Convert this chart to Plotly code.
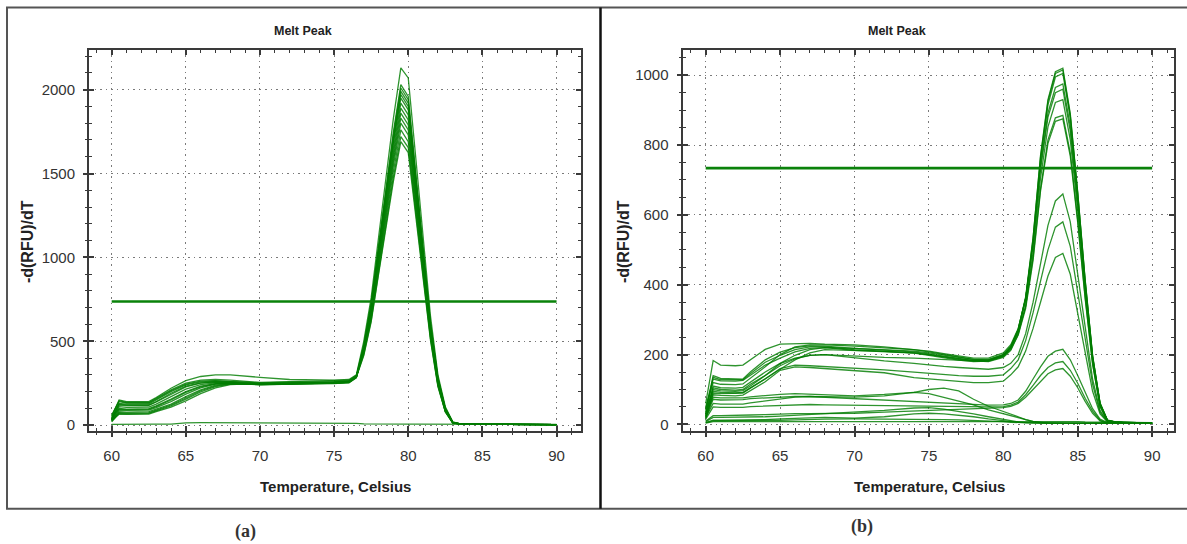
import plotly.graph_objects as go

# ---------------- Panel (a) data ----------------
temp_a = [60, 60.5, 61, 62, 62.5, 63, 64, 65, 66, 67, 68, 70, 72, 74, 75, 76,
          76.5, 77, 77.5, 78, 78.5, 79, 79.5, 80, 80.5, 81, 81.5, 82, 82.5, 83, 83.5, 84, 86, 88, 90]

a_curves = [
    [50, 150, 140, 138, 140, 165, 220, 265, 290, 300, 300, 285, 272, 270, 268, 272,
     300, 500, 760, 1120, 1470, 1830, 2130, 2070, 1600, 1100, 650, 300, 110, 20, 8, 6, 5, 4, 4],
    [60, 145, 135, 133, 135, 160, 210, 250, 268, 272, 268, 255, 258, 262, 262, 268,
     295, 480, 730, 1070, 1400, 1750, 2030, 1960, 1510, 1040, 610, 285, 100, 18, 7, 6, 5, 4, 3],
    [40, 130, 125, 124, 126, 150, 200, 240, 258, 262, 260, 250, 252, 255, 258, 262,
     290, 470, 720, 1060, 1390, 1730, 2010, 1940, 1490, 1030, 600, 280, 100, 17, 7, 6, 5, 4, 3],
    [35, 125, 120, 118, 120, 140, 190, 232, 252, 258, 256, 245, 248, 250, 252, 258,
     288, 465, 715, 1050, 1375, 1710, 1990, 1920, 1475, 1015, 595, 275, 98, 17, 7, 6, 5, 4, 3],
    [30, 110, 106, 105, 108, 125, 170, 215, 242, 252, 252, 242, 246, 248, 250, 255,
     285, 460, 705, 1040, 1360, 1695, 1970, 1900, 1460, 1005, 590, 272, 96, 16, 7, 5, 5, 4, 3],
    [45, 100, 96, 95, 98, 115, 155, 200, 232, 248, 250, 240, 244, 246, 248, 252,
     282, 455, 700, 1030, 1345, 1680, 1950, 1880, 1445, 995, 585, 270, 95, 16, 7, 5, 5, 4, 3],
    [25, 90, 88, 87, 90, 105, 140, 185, 222, 244, 250, 242, 245, 247, 248, 254,
     285, 450, 690, 1015, 1325, 1650, 1920, 1850, 1420, 980, 575, 265, 92, 15, 7, 5, 5, 4, 3],
    [30, 80, 78, 77, 80, 95, 125, 170, 210, 238, 248, 244, 246, 248, 250, 256,
     288, 445, 680, 1000, 1305, 1625, 1890, 1820, 1400, 965, 565, 260, 90, 15, 7, 5, 4, 4, 3],
    [20, 70, 68, 67, 70, 85, 115, 155, 198, 230, 245, 246, 248, 250, 252, 258,
     290, 440, 670, 985, 1285, 1600, 1860, 1790, 1375, 950, 555, 255, 88, 15, 6, 5, 4, 4, 3],
    [28, 65, 64, 63, 66, 80, 108, 145, 188, 222, 242, 248, 250, 252, 254, 260,
     292, 440, 660, 970, 1265, 1575, 1830, 1760, 1355, 935, 545, 250, 86, 14, 6, 5, 4, 3, 3],
    [40, 120, 116, 115, 118, 138, 185, 228, 250, 256, 255, 246, 250, 253, 255, 260,
     290, 435, 650, 955, 1245, 1550, 1800, 1730, 1330, 920, 540, 245, 85, 14, 6, 5, 4, 3, 3],
    [55, 140, 132, 130, 132, 155, 205, 245, 262, 265, 262, 252, 256, 258, 260, 265,
     295, 430, 640, 935, 1215, 1515, 1760, 1690, 1300, 900, 528, 240, 82, 13, 6, 5, 4, 3, 3],
    [35, 95, 92, 91, 94, 110, 150, 195, 228, 246, 250, 243, 247, 249, 250, 256,
     288, 420, 625, 915, 1190, 1480, 1720, 1655, 1275, 880, 515, 235, 80, 13, 6, 5, 4, 3, 3],
    [22, 75, 73, 72, 75, 90, 120, 162, 205, 234, 246, 245, 247, 249, 251, 257,
     287, 415, 615, 900, 1170, 1455, 1690, 1625, 1250, 865, 505, 230, 78, 13, 6, 5, 4, 3, 3],
    [4, 5, 5, 5, 5, 6, 6, 14, 15, 15, 15, 15, 14, 14, 14, 13,
     11, 8, 7, 6, 6, 6, 6, 6, 6, 6, 6, 6, 6, 6, 6, 6, 6, 6, 3],
]
threshold_a = 737

# ---------------- Panel (b) data ----------------
temp_b = [60, 60.5, 61, 62, 62.5, 63, 64, 65, 66, 67, 68, 70, 72, 74, 75, 76, 77, 78, 79, 80,
          80.5, 81, 81.5, 82, 82.5, 83, 83.5, 84, 84.5, 85, 85.5, 86, 86.5, 87, 87.5, 88, 90]

b_curves = [
    # high peaks
    [60, 183, 170, 168, 170, 185, 215, 230, 232, 232, 230, 228, 222, 215, 210, 203, 196, 190, 190, 205,
     228, 275, 360, 515, 730, 880, 950, 960, 840, 630, 395, 188, 58, 12, 7, 6, 4],
    [40, 140, 132, 130, 130, 150, 185, 207, 220, 225, 224, 218, 212, 208, 202, 195, 188, 183, 183, 198,
     222, 272, 365, 535, 770, 930, 1010, 1020, 890, 665, 415, 198, 62, 12, 7, 6, 4],
    [30, 135, 128, 127, 128, 145, 178, 198, 214, 222, 222, 214, 210, 205, 200, 193, 186, 182, 182, 196,
     220, 270, 362, 532, 765, 925, 1005, 1015, 885, 662, 412, 196, 60, 11, 7, 6, 4],
    [50, 130, 125, 124, 126, 140, 170, 190, 208, 218, 220, 212, 208, 204, 198, 190, 184, 180, 181, 194,
     218, 268, 358, 525, 755, 915, 995, 1005, 878, 658, 408, 194, 60, 11, 7, 6, 4],
    [25, 110, 105, 104, 106, 120, 150, 175, 198, 214, 220, 218, 214, 210, 205, 198, 192, 186, 186, 200,
     224, 272, 360, 518, 740, 892, 965, 975, 855, 640, 400, 190, 58, 11, 7, 6, 4],
    [35, 100, 96, 95, 97, 110, 140, 168, 188, 198, 200, 195, 192, 190, 188, 185, 182, 180, 180, 192,
     212, 258, 340, 492, 705, 852, 922, 930, 815, 612, 382, 182, 55, 10, 7, 6, 4],
    [45, 120, 115, 114, 116, 132, 165, 200, 222, 228, 228, 224, 220, 214, 208, 200, 192, 186, 185, 200,
     220, 262, 338, 478, 675, 815, 878, 885, 778, 585, 365, 175, 52, 10, 6, 5, 4],
    [20, 90, 88, 88, 90, 104, 130, 158, 185, 205, 214, 212, 209, 205, 200, 194, 188, 183, 183, 196,
     214, 256, 332, 470, 668, 805, 868, 875, 768, 578, 360, 172, 52, 10, 6, 5, 4],
    # medium peaks
    [30, 105, 100, 98, 100, 115, 140, 174, 190, 198, 200, 190, 182, 175, 170, 166, 163, 160, 158, 163,
     175, 200, 260, 350, 460, 570, 640, 660, 580, 430, 270, 130, 40, 9, 6, 5, 4],
    [25, 95, 92, 90, 92, 105, 130, 160, 170, 168, 166, 162, 156, 150, 146, 142, 140, 138, 138, 142,
     160, 185, 240, 320, 410, 500, 565, 580, 510, 380, 240, 115, 35, 8, 6, 5, 4],
    [20, 85, 83, 82, 84, 96, 122, 155, 165, 163, 160, 154, 148, 134, 130, 126, 122, 120, 120, 124,
     142, 165, 210, 275, 350, 425, 478, 490, 430, 320, 200, 95, 30, 7, 5, 5, 4],
    # small peaks
    [18, 72, 70, 70, 71, 74, 76, 79, 80, 80, 78, 74, 70, 66, 62, 60, 58, 56, 55, 56,
     60, 70, 95, 130, 165, 195, 210, 215, 185, 140, 90, 45, 15, 5, 4, 4, 3],
    [15, 50, 49, 48, 49, 51, 53, 55, 56, 57, 56, 55, 54, 53, 52, 51, 50, 50, 50, 51,
     55, 64, 85, 112, 140, 163, 176, 180, 155, 118, 75, 38, 12, 4, 4, 3, 3],
    [10, 25, 25, 25, 26, 27, 28, 30, 31, 31, 31, 32, 35, 38, 40, 42, 44, 46, 47, 48,
     52, 60, 78, 100, 125, 145, 156, 160, 138, 105, 66, 32, 10, 4, 3, 3, 3],
    # no peak
    [20, 60, 58, 57, 58, 62, 68, 74, 78, 80, 80, 78, 82, 92, 100, 104, 96, 72, 52, 38,
     30, 22, 14, 8, 5, 4, 3, 3, 3, 3, 3, 3, 3, 3, 3, 3, 3],
    [25, 78, 76, 75, 76, 79, 83, 86, 88, 86, 84, 82, 86, 92, 88, 78, 68, 56, 42, 30,
     25, 20, 14, 9, 6, 4, 3, 3, 3, 3, 3, 3, 3, 3, 3, 3, 3],
    [8, 20, 20, 20, 20, 21, 22, 24, 26, 28, 30, 34, 40, 47, 48, 44, 38, 30, 22, 14,
     10, 7, 5, 4, 3, 3, 3, 3, 3, 3, 3, 3, 3, 3, 3, 3, 3],
    [5, 12, 12, 12, 12, 13, 14, 16, 18, 20, 20, 18, 22, 30, 32, 30, 27, 22, 16, 10,
     8, 6, 5, 4, 4, 4, 4, 4, 4, 4, 4, 4, 4, 4, 4, 4, 3],
    [5, 10, 10, 10, 10, 11, 11, 12, 13, 15, 15, 16, 16, 15, 15, 14, 13, 12, 10, 8,
     6, 5, 4, 4, 4, 4, 4, 4, 4, 4, 4, 4, 4, 4, 4, 4, 3],
    [4, 8, 8, 8, 8, 8, 9, 9, 9, 10, 10, 10, 10, 10, 10, 10, 10, 10, 10, 10,
     10, 10, 10, 9, 9, 9, 8, 8, 8, 8, 7, 7, 6, 6, 6, 6, 5],
]
threshold_b = 734

threshold_x = [60, 90]

title_text = "Melt Peak"
x_title = "Temperature, Celsius"
y_title = "-d(RFU)/dT"
panel_labels = ["(a)", "(b)"]

# ---------------- Styling ----------------
W, H = 1187, 544
CURVE = "rgba(0,125,0,0.82)"
THR = "#0a820a"
AXC = "#3a3a3a"
TICKFONT = dict(family="Liberation Sans, Arial, sans-serif", size=15, color="#333333")

fig = go.Figure()

for c in a_curves:
    fig.add_trace(go.Scatter(x=temp_a, y=c, mode="lines", xaxis="x", yaxis="y",
                             line=dict(color=CURVE, width=1.3), hoverinfo="skip", showlegend=False))
fig.add_trace(go.Scatter(x=threshold_x, y=[threshold_a] * 2, mode="lines", xaxis="x3", yaxis="y3",
                         line=dict(color=THR, width=2.6), hoverinfo="skip", showlegend=False))

for c in b_curves:
    fig.add_trace(go.Scatter(x=temp_b, y=c, mode="lines", xaxis="x2", yaxis="y2",
                             line=dict(color=CURVE, width=1.3), hoverinfo="skip", showlegend=False))
fig.add_trace(go.Scatter(x=threshold_x, y=[threshold_b] * 2, mode="lines", xaxis="x4", yaxis="y4",
                         line=dict(color=THR, width=2.6), hoverinfo="skip", showlegend=False))


def main_axis(rng, dtick, mdtick, domain, anchor):
    return dict(range=rng, domain=domain, anchor=anchor, showline=True, linecolor=AXC, linewidth=2,
                mirror="ticks", ticks="inside", ticklen=5, tickwidth=1.5, tickcolor=AXC,
                dtick=dtick, tick0=0, showticklabels=False, showgrid=True, gridcolor="#7a7a7a",
                gridwidth=1.2, griddash="1.5px,4px", zeroline=False,
                minor=dict(ticks="inside", ticklen=3, tickwidth=1.2, tickcolor=AXC, dtick=mdtick,
                           showgrid=False))


def overlay_axis(rng, dtick, mdtick, over, anchor, side, standoff):
    return dict(range=rng, overlaying=over, anchor=anchor, side=side, showline=False, showgrid=False,
                zeroline=False, ticks="outside", ticklen=5, tickwidth=1.5, tickcolor=AXC,
                dtick=dtick, tick0=0, showticklabels=True, tickfont=TICKFONT,
                ticklabelstandoff=standoff,
                minor=dict(ticks="outside", ticklen=3, tickwidth=1.2, tickcolor=AXC, dtick=mdtick,
                           showgrid=False))


xa_rng = [58.47, 91.65]
ya_rng = [-37.4, 2237.6]
xb_rng = [58.44, 91.47]
yb_rng = [-20, 1072.8]
ydom = [1 - 433 / H, 1 - 50 / H]
xdom_a = [89 / W, 581 / W]
xdom_b = [682.5 / W, 1174 / W]

fig.update_layout(
    width=W, height=H,
    margin=dict(l=0, r=0, t=0, b=0),
    paper_bgcolor="white", plot_bgcolor="white",
    font=dict(family="Liberation Sans, Arial, sans-serif", color="#222222"),
    hovermode=False,
    xaxis=main_axis(xa_rng, 5, 1, xdom_a, "y"),
    yaxis=main_axis(ya_rng, 500, 100, ydom, "x"),
    xaxis2=main_axis(xb_rng, 5, 1, xdom_b, "y2"),
    yaxis2=main_axis(yb_rng, 200, 50, ydom, "x2"),
    xaxis3=overlay_axis(xa_rng, 5, 1, "x", "y", "bottom", 6),
    yaxis3=overlay_axis(ya_rng, 500, 100, "y", "x", "left", 5),
    xaxis4=overlay_axis(xb_rng, 5, 1, "x2", "y2", "bottom", 6),
    yaxis4=overlay_axis(yb_rng, 200, 50, "y2", "x2", "left", 5),
)

# frame and divider
fig.add_shape(type="rect", xref="paper", yref="paper", x0=7 / W, x1=1.01, y0=1 - 510.7 / H, y1=1 - 7.5 / H,
              line=dict(color="#555555", width=2), fillcolor="rgba(0,0,0,0)", layer="below")
fig.add_shape(type="line", xref="paper", yref="paper", x0=600.5 / W, x1=600.5 / W,
              y0=1 - 510.7 / H, y1=1 - 7.5 / H, line=dict(color="#111111", width=2.5))

ann = []
for cx in (303.5, 897):
    ann.append(dict(text=f"<b>{title_text}</b>", x=cx / W, y=1 - 31 / H, xref="paper", yref="paper",
                    showarrow=False, xanchor="center", yanchor="middle",
                    font=dict(size=12.5, color="#222222")))
for cx in (335, 929):
    ann.append(dict(text=f"<b>{x_title}</b>", x=cx / W, y=1 - 488 / H, xref="paper", yref="paper",
                    showarrow=False, xanchor="center", yanchor="middle",
                    font=dict(size=15, color="#222222")))
for cx in (27, 623):
    ann.append(dict(text=f"<b>{y_title}</b>", x=cx / W, y=1 - 243 / H, xref="paper", yref="paper",
                    showarrow=False, xanchor="center", yanchor="middle", textangle=-90,
                    font=dict(size=16, color="#222222")))
for lab, cx, cy in ((panel_labels[0], 245, 533), (panel_labels[1], 862, 528)):
    ann.append(dict(text=f"<b>{lab}</b>", x=cx / W, y=1 - cy / H, xref="paper", yref="paper",
                    showarrow=False, xanchor="center", yanchor="middle",
                    font=dict(family="Liberation Serif, Times New Roman, serif", size=18, color="#333333")))
fig.update_layout(annotations=ann)

fig.write_html("out.html", config={"displayModeBar": False},
               post_script="document.body.style.margin='0px';")
